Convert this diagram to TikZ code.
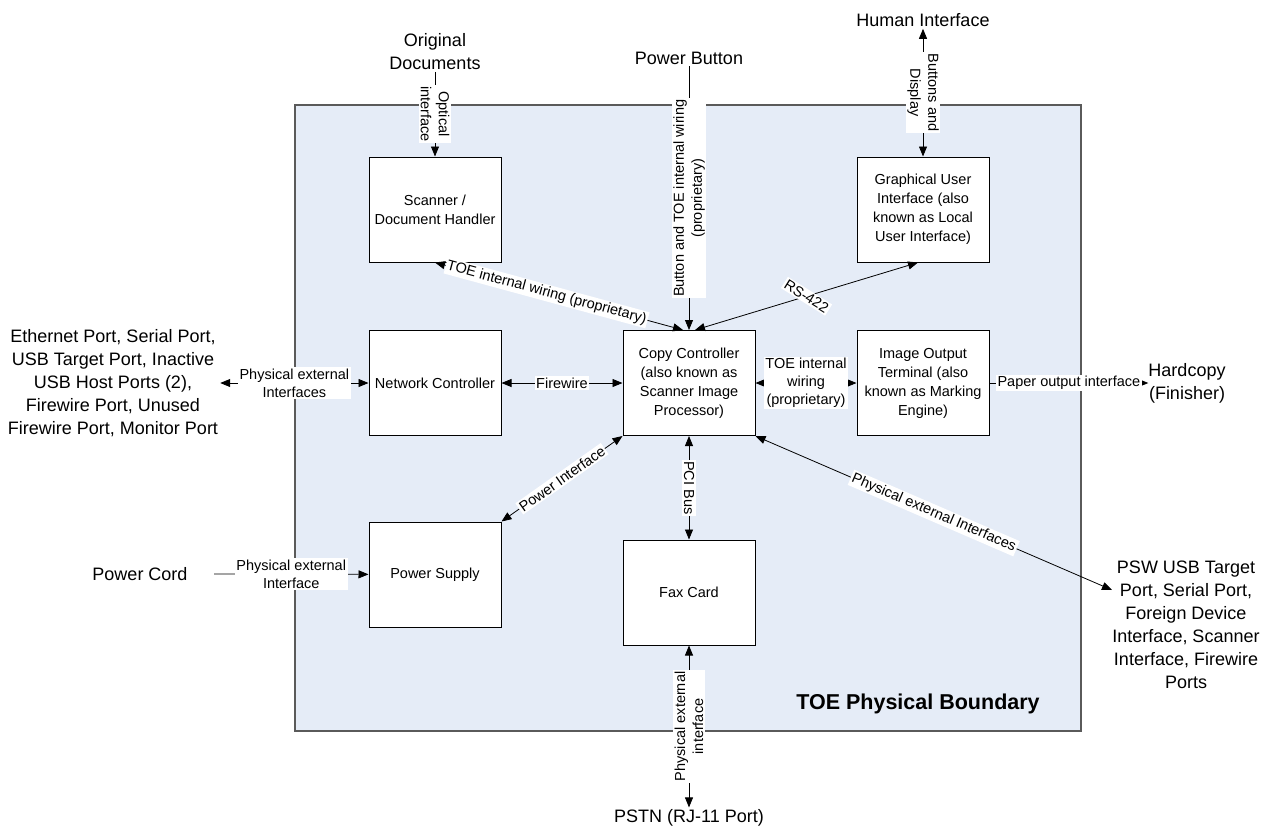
\documentclass[tikz,border=0pt]{standalone}
\usepackage{fontspec}
\setmainfont{Liberation Sans}
\usetikzlibrary{arrows.meta}

\definecolor{toefill}{RGB}{229,236,247}
\definecolor{toeline}{RGB}{90,90,90}

\tikzset{
	unit/.style={shape=rectangle,draw=black,fill=white,line width=1pt,minimum width=132pt,minimum height=105pt,align=center,inner sep=2pt,font=\fontsize{14.5}{19}\selectfont},
	ext/.style={align=center,inner sep=2pt,font=\fontsize{18}{23}\selectfont},
	lbl/.style={fill=white,align=center,inner sep=1.5pt,font=\fontsize{14.5}{18}\selectfont},
	link/.style={draw=black,line width=0.8pt}
}

\begin{document}
\begin{tikzpicture}[x=1pt,y=-1pt,>={Triangle[length=10pt,width=8pt]}]
	\useasboundingbox (0,0) rectangle (1269,831);

	% TOE boundary
	\draw[fill=toefill,draw=toeline,line width=1.2pt] (295,105) rectangle (1081,731);
	\node[font=\fontsize{21.5}{25}\selectfont\bfseries] (tpb) at (918,704) {TOE Physical Boundary};

	\node[unit] (scan) at (435,209.5) {Scanner /\\Document Handler};
	\node[unit] (gui)  at (923,209.5) {Graphical User\\Interface (also\\known as Local\\User Interface)};
	\node[unit] (net)  at (435,383)   {Network Controller};
	\node[unit] (copy) at (689,383)   {Copy Controller\\(also known as\\Scanner Image\\Processor)};
	\node[unit] (iot)  at (923,383)   {Image Output\\Terminal (also\\known as Marking\\Engine)};
	\node[unit] (psu)  at (435,574.5) {Power Supply};
	\node[unit] (fax)  at (689,592.5) {Fax Card};

	\node[ext] (orig)  at (435,51.5)  {Original\\Documents};
	\node[ext] (pbtn)  at (689,58)    {Power Button};
	\node[ext] (human) at (923,20)    {Human Interface};
	\node[ext] (eth)   at (113,383)   {Ethernet Port, Serial Port,\\USB Target Port, Inactive\\USB Host Ports (2),\\Firewire Port, Unused\\Firewire Port, Monitor Port};
	\node[ext] (cord)  at (140,574)   {Power Cord};
	\node[ext,inner sep=0pt] (hard) at (1187,383) {Hardcopy\\(Finisher)};
	\node[ext] (psw)   at (1186,625)  {PSW USB Target\\Port, Serial Port,\\Foreign Device\\Interface, Scanner\\Interface, Firewire\\Ports};
	\node[ext] (pstn)  at (689,818)   {PSTN (RJ-11 Port)};

	\coordinate (cordend) at (214,574);
	\coordinate (pswin) at (1112,590);

	\path[->]  (orig) edge[link] node[lbl,rotate=-90]{Optical\\interface} (scan);
	\path[->]  (pbtn) edge[link] node[lbl,rotate=90]{Button and TOE internal wiring\\(proprietary)} (copy);
	\path[<->] (human) edge[link] node[lbl,rotate=-90]{Buttons and\\Display} (gui);
	\path[<->] (scan.south) edge[link] node[lbl,sloped,pos=0.45]{TOE internal wiring (proprietary)} ([xshift=-6pt]copy.north);
	\path[<->] ([xshift=6pt]copy.north) edge[link] node[lbl,rotate=-32]{RS-422} ([xshift=-5pt]gui.south);
	\path[<->] (eth) edge[link] node[lbl]{Physical external\\Interfaces} (net);
	\path[<->] (net) edge[link] node[lbl]{Firewire} (copy);
	\path[<->] (copy) edge[link] node[lbl]{TOE internal\\wiring\\(proprietary)} (iot);
	\path[->]  (iot) edge[link] node[lbl]{Paper output interface} (hard);
	\path[<->] (copy.south west) edge[link] node[lbl,sloped]{Power Interface} (psu.north east);
	\path[<->] (copy) edge[link] node[lbl,rotate=-90]{PCI Bus} (fax);
	\path[<->] (copy.south east) edge[link] node[lbl,sloped]{Physical external Interfaces} (pswin);
	\path[->]  (cordend) edge[link] node[lbl]{Physical external\\Interface} (psu);
	\path[<->] (fax) edge[link] node[lbl,rotate=90]{Physical external\\interface} (pstn);
\end{tikzpicture}
\end{document}
